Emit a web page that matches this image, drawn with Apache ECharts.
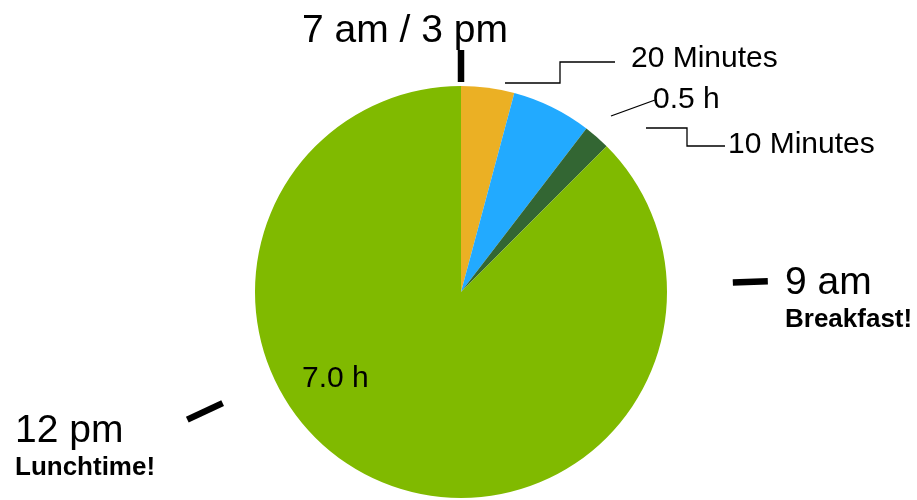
<!DOCTYPE html>
<html>
<head>
<meta charset="utf-8">
<title>A working day</title>
<script src="https://cdn.jsdelivr.net/npm/echarts@6/dist/echarts.min.js"></script>
<style>
  html, body { margin: 0; padding: 0; background: #fff; }
  #chart { width: 917px; height: 500px; }
</style>
</head>
<body>
<div id="chart"></div>
<script>
// Slices of the day, in minutes, clockwise from 7 am.
const sliceLabels = ['20 Minutes', '0.5 h', '10 Minutes', '7.0 h'];
const sliceMinutes = [20, 30, 10, 420];
const sliceColors = ['#EBB024', '#22AAFF', '#336633', '#80BA00'];

// Clock annotations around the dial.
const clockTimes = ['7 am / 3 pm', '9 am', '12 pm'];
const clockNotes = ['', 'Breakfast!', 'Lunchtime!'];

const FONT = '"Liberation Sans", Arial, Helvetica, sans-serif';
const CENTER = [461, 292];
const RADIUS = 206;

// Where each slice label sits, and the path of its leader line.
const labelSpots = [
  { x: 631, y: 59, line: [[505, 83], [560, 83], [560, 62], [615, 62]] },
  { x: 653, y: 100, line: [[611, 116], [655, 100]] },
  { x: 728, y: 145, line: [[646, 128], [687, 128], [687, 146], [725, 146]] },
  { x: 302, y: 379 }
];

// Clock ticks: angle clockwise from 12 o'clock, inner and outer radius.
const tickSpots = [
  { angle: 0, r0: 210, r1: 242 },
  { angle: 88, r0: 272, r1: 307 },
  { angle: 245, r0: 263, r1: 302 }
];
// Clock text blocks: anchor for the time and for the note beneath it.
const clockTextSpots = [
  { x: 405, y: 31, align: 'center' },
  { x: 785, y: 283, align: 'left', noteY: 320 },
  { x: 15, y: 431, align: 'left', noteY: 468 }
];

function polar(angleDeg, r) {
  const a = angleDeg * Math.PI / 180;
  return [CENTER[0] + r * Math.sin(a), CENTER[1] - r * Math.cos(a)];
}

const pieData = sliceMinutes.map((v, i) => {
  const inside = i === sliceMinutes.length - 1;
  return {
    name: sliceLabels[i],
    value: v,
    itemStyle: { color: sliceColors[i] },
    label: { position: inside ? 'inside' : 'outside' },
    labelLine: { show: !inside }
  };
});

const graphics = [];
tickSpots.forEach(t => {
  const p0 = polar(t.angle, t.r0);
  const p1 = polar(t.angle, t.r1);
  graphics.push({
    type: 'line',
    shape: { x1: p0[0], y1: p0[1], x2: p1[0], y2: p1[1] },
    style: { stroke: '#000', lineWidth: 6.5 },
    silent: true
  });
});
clockTimes.forEach((t, i) => {
  const s = clockTextSpots[i];
  graphics.push({
    type: 'text',
    x: s.x, y: s.y,
    style: {
      text: t, fill: '#000',
      font: '39px ' + FONT,
      textAlign: s.align, textVerticalAlign: 'middle'
    },
    silent: true
  });
  if (clockNotes[i]) {
    graphics.push({
      type: 'text',
      x: s.x, y: s.noteY,
      style: {
        text: clockNotes[i], fill: '#000',
        font: 'bold 26px ' + FONT,
        textAlign: s.align, textVerticalAlign: 'middle'
      },
      silent: true
    });
  }
});

const chart = echarts.init(document.getElementById('chart'), null, { renderer: 'canvas' });
chart.setOption({
  animation: false,
  backgroundColor: '#fff',
  series: [{
    type: 'pie',
    center: CENTER,
    radius: RADIUS,
    startAngle: 90,
    clockwise: true,
    avoidLabelOverlap: false,
    emphasis: { disabled: true },
    data: pieData,
    label: {
      show: true,
      formatter: '{b}',
      color: '#000',
      fontSize: 30,
      fontFamily: FONT
    },
    labelLine: {
      show: true,
      lineStyle: { color: '#000', width: 1.3 }
    },
    labelLayout: function (p) {
      const spot = labelSpots[p.dataIndex];
      const out = { x: spot.x, y: spot.y, align: 'left', verticalAlign: 'middle' };
      if (spot.line) out.labelLinePoints = spot.line;
      return out;
    }
  }],
  graphic: graphics
});
</script>
</body>
</html>
